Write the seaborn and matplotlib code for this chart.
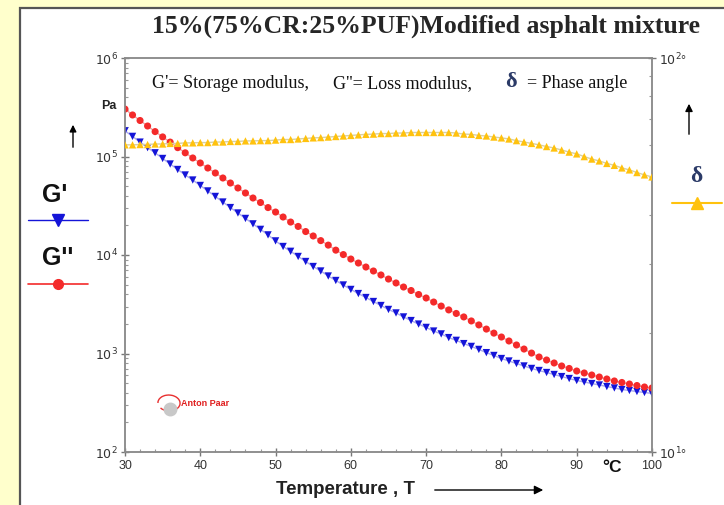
import numpy as np
import pandas as pd
import matplotlib
matplotlib.use("Agg")
import matplotlib.pyplot as plt
import seaborn as sns
from matplotlib.patches import Rectangle, FancyArrowPatch, Arc
from matplotlib.lines import Line2D
from matplotlib.ticker import FixedLocator, FixedFormatter, LogLocator, NullFormatter, MultipleLocator

# temperature sweep, 1 degC steps
temperature = list(range(30, 101))

# G' storage modulus (Pa)
g_storage = [1.82e5, 1.60e5, 1.40e5, 1.23e5, 1.09e5, 9.55e4, 8.39e4, 7.38e4, 6.49e4, 5.77e4,
             5.08e4, 4.47e4, 3.93e4, 3.45e4, 3.03e4, 2.67e4, 2.35e4, 2.07e4, 1.82e4, 1.60e4,
             1.39e4, 1.22e4, 1.09e4, 9.66e3, 8.59e3, 7.64e3, 6.88e3, 6.12e3, 5.51e3, 4.96e3,
             4.47e3, 4.06e3, 3.70e3, 3.37e3, 3.07e3, 2.80e3, 2.58e3, 2.35e3, 2.16e3, 1.99e3,
             1.84e3, 1.69e3, 1.58e3, 1.45e3, 1.36e3, 1.26e3, 1.18e3, 1.10e3, 1.02e3, 955,
             889, 839, 791, 747, 705, 672, 641, 612, 583, 557,
             532, 514, 495, 479, 462, 447, 431, 421, 411, 402,
             393]

# G'' loss modulus (Pa)
g_loss = [3.03e5, 2.64e5, 2.32e5, 2.04e5, 1.79e5, 1.58e5, 1.40e5, 1.23e5, 1.09e5, 9.66e4,
          8.59e4, 7.64e4, 6.80e4, 6.05e4, 5.38e4, 4.79e4, 4.26e4, 3.79e4, 3.41e4, 3.03e4,
          2.73e4, 2.43e4, 2.16e4, 1.95e4, 1.73e4, 1.56e4, 1.40e4, 1.26e4, 1.12e4, 1.01e4,
          9.10e3, 8.29e3, 7.55e3, 6.88e3, 6.27e3, 5.70e3, 5.20e3, 4.73e3, 4.36e3, 3.97e3,
          3.66e3, 3.33e3, 3.03e3, 2.77e3, 2.55e3, 2.35e3, 2.14e3, 1.95e3, 1.77e3, 1.61e3,
          1.47e3, 1.34e3, 1.22e3, 1.11e3, 1.01e3, 921, 859, 801, 747, 705,
          664, 634, 605, 577, 551, 526, 508, 490, 473, 457,
          447]

# delta phase angle (deg)
phase_angle = [60.2, 60.2, 60.3, 60.3, 60.5, 60.5, 60.7, 60.7, 60.9, 60.9,
               61.0, 61.0, 61.2, 61.2, 61.4, 61.4, 61.6, 61.6, 61.7, 61.7,
               61.9, 62.1, 62.1, 62.3, 62.5, 62.7, 62.8, 63.0, 63.2, 63.4,
               63.6, 63.8, 64.0, 64.1, 64.3, 64.3, 64.5, 64.5, 64.7, 64.7,
               64.7, 64.7, 64.7, 64.7, 64.5, 64.1, 64.0, 63.6, 63.4, 63.0,
               62.7, 62.3, 61.7, 61.2, 60.7, 60.2, 59.6, 59.1, 58.4, 57.7,
               57.1, 56.2, 55.4, 54.8, 54.0, 53.4, 52.6, 52.0, 51.2, 50.5,
               49.9]

left_ticks = [1e2, 1e3, 1e4, 1e5, 1e6]
left_labels = [r'$10^{2}$', r'$10^{3}$', r'$10^{4}$', r'$10^{5}$', r'$10^{6}$']
right_ticks = [10, 100]
right_labels = [r'$10^{1}$°', r'$10^{2}$°']
x_ticks = [30, 40, 50, 60, 70, 80, 90, 100]

df = pd.DataFrame({'T': temperature, 'Gs': g_storage, 'Gl': g_loss, 'delta': phase_angle})

blue = '#1414D8'
red = '#F42A2A'
yellow = '#FFC20E'

sns.set_style("white")
plt.rcParams['font.family'] = ['Liberation Sans', 'DejaVu Sans']

W, H = 724, 505
def fx(px):
    return px / W
def fy(py):
    return 1 - py / H

fig = plt.figure(figsize=(7.24, 5.05), dpi=100)
fig.patch.set_facecolor('#FFFFCC')
fig.add_artist(Rectangle((fx(20), -0.1), 1.0, fy(8) + 0.1, transform=fig.transFigure,
                         facecolor='white', edgecolor='#555555', lw=1.6, zorder=0))

ax = fig.add_axes([fx(125), fy(452), fx(652) - fx(125), fy(58) - fy(452)])
ax.set_facecolor('none')
ax2 = ax.twinx()

# G' and G'' on the left log axis
sns.lineplot(data=df, x='T', y='Gs', ax=ax, color='#A9A9EE', lw=1, zorder=2)
sns.scatterplot(data=df, x='T', y='Gs', ax=ax, color=blue, marker='v', s=28, edgecolor='none', zorder=3)
sns.lineplot(data=df, x='T', y='Gl', ax=ax, color='#F2A0A0', lw=1, zorder=2)
sns.scatterplot(data=df, x='T', y='Gl', ax=ax, color=red, marker='o', s=26, edgecolor='none', zorder=3)

# delta on the right log axis
sns.lineplot(data=df, x='T', y='delta', ax=ax2, color='#D8D0A0', lw=1, zorder=2)
sns.scatterplot(data=df, x='T', y='delta', ax=ax2, color=yellow, marker='^', s=28, edgecolor='none', zorder=3)

ax.set_yscale('log')
ax.set_ylim(1e2, 1e6)
ax.set_xlim(30, 100)
ax2.set_yscale('log')
ax2.set_ylim(10, 100)

for a in (ax, ax2):
    a.set_xlabel('')
    a.set_ylabel('')
    for s in a.spines.values():
        s.set_color('#8C8C8C')
        s.set_linewidth(1.1)

ax.yaxis.set_major_locator(FixedLocator(left_ticks))
ax.yaxis.set_major_formatter(FixedFormatter(left_labels))
ax.yaxis.set_minor_locator(LogLocator(base=10, subs=np.arange(2, 10)))
ax.yaxis.set_minor_formatter(NullFormatter())
ax.xaxis.set_major_locator(FixedLocator(x_ticks))
ax.xaxis.set_minor_locator(MultipleLocator(2))
ax2.yaxis.set_major_locator(FixedLocator(right_ticks))
ax2.yaxis.set_major_formatter(FixedFormatter(right_labels))
ax2.yaxis.set_minor_locator(LogLocator(base=10, subs=np.arange(2, 10)))
ax2.yaxis.set_minor_formatter(NullFormatter())

ax.tick_params(axis='y', which='major', direction='inout', length=6, width=1, color='#777777',
               labelsize=9, labelcolor='#333333', pad=2, left=True)
ax.tick_params(axis='y', which='minor', direction='in', length=2.5, width=0.8, color='#999999', left=True)
ax.tick_params(axis='x', which='major', direction='inout', length=6, width=1, color='#777777',
               labelsize=9, labelcolor='#333333', pad=3, bottom=True)
ax.tick_params(axis='x', which='minor', direction='in', length=2.5, width=0.8, color='#999999', bottom=True)
ax2.tick_params(axis='y', which='major', direction='inout', length=6, width=1, color='#777777',
                labelsize=9, labelcolor='#333333', pad=2, right=True)
ax2.tick_params(axis='y', which='minor', direction='in', length=2.5, width=0.8, color='#999999', right=True)

# title and notes
fig.text(fx(426), fy(26), '15%(75%CR:25%PUF)Modified asphalt mixture', ha='center', va='center',
         fontsize=18.5, fontweight='bold', family='Liberation Serif')
fig.text(fx(152), fy(84), "G'= Storage modulus,", ha='left', va='center', fontsize=13,
         family='Liberation Serif', color='#111111')
fig.text(fx(333), fy(84), "G''= Loss modulus,", ha='left', va='center', fontsize=13,
         family='Liberation Serif', color='#111111')
fig.text(fx(511), fy(82), 'δ', ha='center', va='center', fontsize=16, fontweight='bold',
         family='Liberation Serif', color='#2B3A67')
fig.text(fx(527), fy(84), '= Phase angle', ha='left', va='center', fontsize=13,
         family='Liberation Serif', color='#111111')

# left legend block
fig.text(fx(109), fy(106), 'Pa', ha='center', va='center', fontsize=9, fontweight='bold', color='#222222')
fig.add_artist(FancyArrowPatch((fx(73), fy(150)), (fx(73), fy(122)),
               transform=fig.transFigure, arrowstyle='-|>', mutation_scale=10, color='black', lw=1))
fig.text(fx(55), fy(195), "G'", ha='center', va='center', fontsize=18, fontweight='bold', color='#111111')
fig.add_artist(Line2D([fx(28), fx(88)], [fy(220), fy(220)], transform=fig.transFigure, color=blue, lw=1))
fig.add_artist(Line2D([fx(58)], [fy(220)], transform=fig.transFigure, color=blue, marker='v', ms=8))
fig.text(fx(58), fy(258), "G''", ha='center', va='center', fontsize=18, fontweight='bold', color='#111111')
fig.add_artist(Line2D([fx(28), fx(88)], [fy(284), fy(284)], transform=fig.transFigure, color=red, lw=1.2))
fig.add_artist(Line2D([fx(58)], [fy(284)], transform=fig.transFigure, color=red, marker='o', ms=7))

# right legend block
fig.add_artist(FancyArrowPatch((fx(689), fy(137)), (fx(689), fy(101)),
               transform=fig.transFigure, arrowstyle='-|>', mutation_scale=11, color='black', lw=1))
fig.text(fx(696), fy(176), 'δ', ha='center', va='center', fontsize=17, fontweight='bold',
         family='Liberation Serif', color='#2B3A67')
fig.add_artist(Line2D([fx(672), fx(722)], [fy(203), fy(203)], transform=fig.transFigure, color=yellow, lw=1.5))
fig.add_artist(Line2D([fx(697)], [fy(203)], transform=fig.transFigure, color=yellow, marker='^', ms=8))

# x axis label
fig.text(fx(612), fy(467), '°C', ha='center', va='center', fontsize=12.5, fontweight='bold', color='#111111')
fig.text(fx(345), fy(490), 'Temperature , T', ha='center', va='center', fontsize=13.5, fontweight='bold',
         color='#222222')
fig.add_artist(FancyArrowPatch((fx(432), fy(490)), (fx(546), fy(490)),
               transform=fig.transFigure, arrowstyle='-|>', mutation_scale=13, color='black', lw=1))

# Anton Paar mark
fig.add_artist(Line2D([fx(170)], [fy(409)], transform=fig.transFigure, color='#C8C8C8', marker='o', ms=9))
fig.add_artist(Arc((fx(169), fy(403)), fx(22), fy(0) - fy(16), angle=20,
               theta1=200, theta2=520, transform=fig.transFigure, color='#E83030', lw=1))
fig.text(fx(181), fy(404), 'Anton Paar', ha='left', va='center', fontsize=6.5, fontweight='bold', color='#E02020')

fig.savefig('out.png', dpi=100)
